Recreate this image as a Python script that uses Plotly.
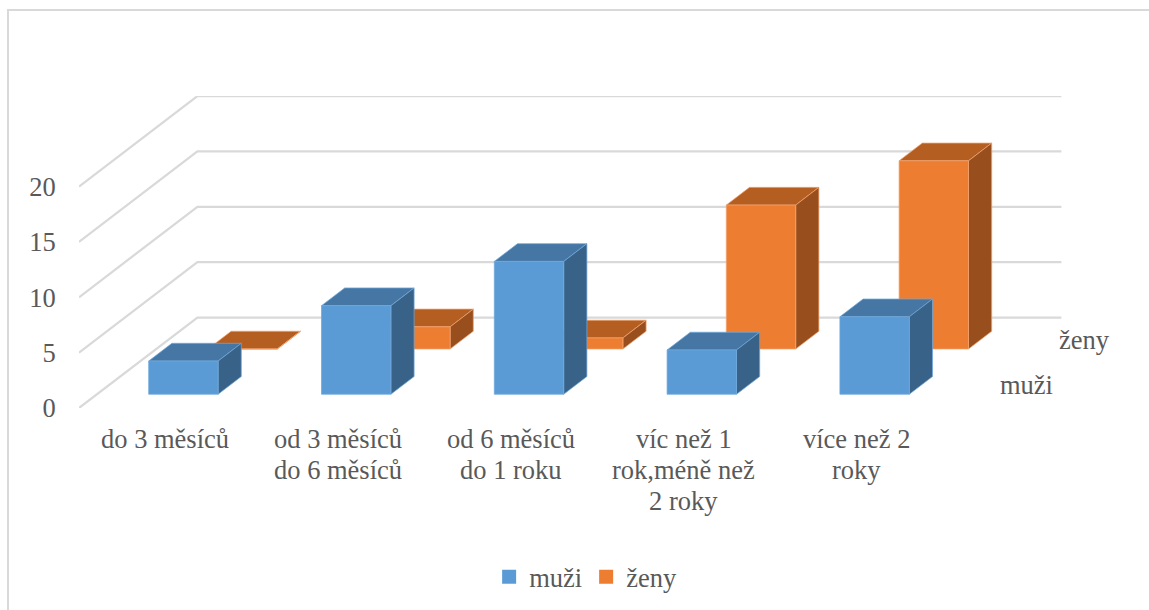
# %%
import plotly.graph_objects as go

categories = [
    "do 3 měsíců",
    "od 3 měsíců<br>do 6 měsíců",
    "od 6 měsíců<br>do 1 roku",
    "víc než 1<br>rok,méně než<br>2 roky",
    "více než 2<br>roky",
]
muzi = [3, 8, 12, 4, 7]
zeny = [0, 2, 1, 13, 17]
value_ticks = [0, 5, 10, 15, 20]

FONT = "Liberation Serif"
FONT_SIZE = 26.5
TEXT = "#595959"
GRID = "#D9D9D9"

W, H = 1149, 610
# pixel box of the plot area
LEFT, RIGHT, BOTTOM, TOP = 79, 1062, 408, 96
PX_PER_CAT = 172.8
PX_PER_VAL = 11.07
# oblique projection: a point at depth d (0 front, 1 back) moves right and up
SHEAR_X = 118.4 / PX_PER_CAT
SHEAR_Y = 90.5 / PX_PER_VAL
BAR_W = 69.4 / PX_PER_CAT
BAR_D = 0.196


def box_faces(values, row):
    """Polygons (front, top, side) of the bars of one depth row, None separated."""
    d0 = row * 0.5 + (0.5 - BAR_D) / 2
    d1 = d0 + BAR_D
    faces = {"front": ([], []), "top": ([], []), "side": ([], [])}

    def proj(x, v, d):
        return x + d * SHEAR_X, v + d * SHEAR_Y

    for i, v in enumerate(values):
        x0 = i + 0.5 - BAR_W / 2
        x1 = x0 + BAR_W
        polys = {
            "front": [(x0, 0, d0), (x1, 0, d0), (x1, v, d0), (x0, v, d0)],
            "top": [(x0, v, d0), (x1, v, d0), (x1, v, d1), (x0, v, d1)],
            "side": [(x1, 0, d0), (x1, 0, d1), (x1, v, d1), (x1, v, d0)],
        }
        for name, pts in polys.items():
            xy = [proj(*p) for p in pts + pts[:1]]
            faces[name][0].extend([p[0] for p in xy] + [None])
            faces[name][1].extend([p[1] for p in xy] + [None])
    return faces


fig = go.Figure()

# side wall and back wall gridlines
grid_x, grid_y = [], []
for v in value_ticks:
    grid_x += [0, SHEAR_X, len(categories) + SHEAR_X, None]
    grid_y += [v, v + SHEAR_Y, v + SHEAR_Y, None]
fig.add_trace(
    go.Scatter(
        x=grid_x,
        y=grid_y,
        mode="lines",
        line=dict(color=GRID, width=2.25),
        hoverinfo="skip",
        showlegend=False,
    )
)

series = [
    # back row first so the front row paints over it
    ("ženy", zeny, 1, "#ED7D31", "#B45E22", "#984F1D", "#F2A36E"),
    ("muži", muzi, 0, "#5B9BD5", "#4676A3", "#386288", "#6FA8DC"),
]
for name, values, row, c_front, c_top, c_side, c_edge in series:
    faces = box_faces(values, row)
    for face, color in (("top", c_top), ("side", c_side), ("front", c_front)):
        fig.add_trace(
            go.Scatter(
                x=faces[face][0],
                y=faces[face][1],
                mode="lines",
                fill="toself",
                fillcolor=color,
                line=dict(color=c_edge, width=0.75),
                hoverinfo="skip",
                showlegend=False,
            )
        )

# legend swatches
for name, color in (("muži", "#5B9BD5"), ("ženy", "#ED7D31")):
    fig.add_trace(
        go.Scatter(
            x=[None],
            y=[None],
            mode="markers",
            name=name,
            marker=dict(symbol="square", size=14, color=color),
        )
    )

annotations = []
# category labels, one annotation per line for the tight line spacing
for i, label in enumerate(categories):
    for j, line in enumerate(label.split("<br>")):
        annotations.append(
            dict(
                x=i + 0.5,
                y=0,
                text=line,
                showarrow=False,
                xanchor="center",
                yanchor="middle",
                yshift=-(31 + 31 * j),
                font=dict(family=FONT, size=FONT_SIZE, color=TEXT),
            )
        )
# depth axis labels
for name, depth in (("muži", 0.25), ("ženy", 0.75)):
    annotations.append(
        dict(
            x=len(categories) + depth * SHEAR_X,
            y=depth * SHEAR_Y,
            text=name,
            showarrow=False,
            xanchor="left",
            yanchor="middle",
            xshift=25,
            font=dict(family=FONT, size=FONT_SIZE, color=TEXT),
        )
    )

fig.update_layout(
    width=W,
    height=H,
    margin=dict(l=0, r=0, t=0, b=0),
    paper_bgcolor="white",
    plot_bgcolor="white",
    font=dict(family=FONT, size=FONT_SIZE, color=TEXT),
    xaxis=dict(
        domain=[LEFT / W, RIGHT / W],
        range=[0, (RIGHT - LEFT) / PX_PER_CAT],
        showgrid=False,
        zeroline=False,
        showticklabels=False,
        ticks="",
        automargin=False,
    ),
    yaxis=dict(
        domain=[1 - BOTTOM / H, 1 - TOP / H],
        range=[0, (BOTTOM - TOP) / PX_PER_VAL],
        tickvals=value_ticks,
        showgrid=False,
        zeroline=False,
        ticks="outside",
        ticklen=17,
        tickcolor="rgba(0,0,0,0)",
        automargin=False,
    ),
    legend=dict(
        orientation="h",
        x=0.4257,
        y=1 - 577 / H,
        xanchor="left",
        yanchor="middle",
        entrywidth=52,
        entrywidthmode="pixels",
        itemwidth=30,
        font=dict(family=FONT, size=FONT_SIZE, color=TEXT),
    ),
    annotations=annotations,
    shapes=[
        dict(
            type="path",
            xref="paper",
            yref="paper",
            path=f"M {8 / W} 0 L {8 / W} {1 - 10 / H} L 1 {1 - 10 / H}",
            line=dict(color=GRID, width=2),
        )
    ],
)

fig.write_html(
    "out.html",
    config={"displayModeBar": False},
    post_script="document.body.style.margin = '0';",
)
